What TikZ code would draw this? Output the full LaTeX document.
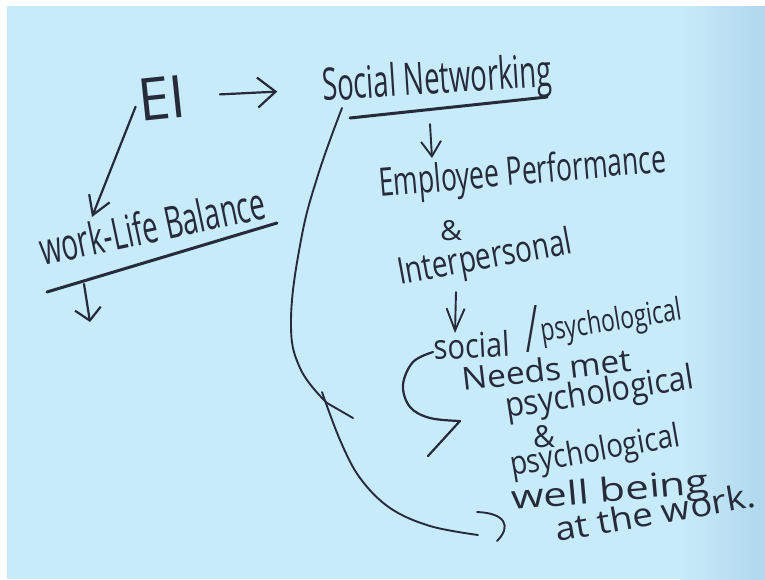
\documentclass[tikz,border=0pt]{standalone}
\usepackage{fontspec}
\setmainfont{Open Sans}
\usepackage{graphicx}
\usetikzlibrary{arrows.meta,calc}
\definecolor{ink}{RGB}{38,42,58}
\definecolor{bgM}{RGB}{200,235,249}
\definecolor{bgR}{RGB}{176,215,237}
\newcommand{\hw}[3]{\resizebox{#1pt}{#2pt}{#3}}
\begin{document}
\begin{tikzpicture}[x=1pt,y=-1pt,
  txt/.style={inner sep=0pt, anchor=base west, text=ink},
  ln/.style={draw=ink, line width=2.2pt, line cap=round, line join=round},
  thin/.style={draw=ink, line width=1.9pt, line cap=round, line join=round},
  uline/.style={draw=ink, line width=3pt, line cap=round}]
\useasboundingbox (0,0) rectangle (765,579);
\fill[white] (0,0) rectangle (765,579);
\fill[bgM] (7,6) rectangle (765,579);
\shade[left color=bgM, right color=bgR] (680,6) rectangle (765,579);

% texts
\node[txt, rotate=6] (EI) at (140,122) {\hw{48}{42}{EI}};
\node[txt, rotate=3.7] (SN) at (323,101) {\hw{230}{34}{Social Networking}};
\node[txt, rotate=5] (EP) at (380,197) {\hw{288}{30}{Employee Performance}};
\node[txt] (amp1) at (440,240) {\hw{22}{20}{\&}};
\node[txt, rotate=10.5] (IP) at (400,285) {\hw{176}{28}{Interpersonal}};
\node[txt, rotate=12] (WLB) at (43,266) {\hw{230}{34}{work-Life Balance}};
\node[txt, rotate=3] (soc) at (434,360) {\hw{76}{26}{social}};
\node[txt] (sl) at (526,352) {\hw{11}{47}{/}};
\node[txt, rotate=9] (psy1) at (542,342) {\hw{142}{24}{psychological}};
\node[txt, rotate=6.7] (nm) at (463,391) {\hw{170}{24}{Needs met}};
\node[txt, rotate=9] (psy2) at (507,418) {\hw{190}{26}{psychological}};
\node[txt] (amp2) at (533,447) {\hw{22}{22}{\&}};
\node[txt, rotate=10] (psy3) at (512,476) {\hw{172}{25}{psychological}};
\node[txt, rotate=5] (wb) at (512,510) {\hw{198}{25}{well being}};
\node[txt, rotate=10] (atw) at (557,542) {\hw{203}{25}{at the work.}};

% EI -> Social Networking
\draw[ln, shorten <=34pt, shorten >=45pt, -{Straight Barb[length=18pt,width=30pt]}] (EI.east) -- (SN.west);
% EI -> work-life balance
\coordinate (wlbTip) at (92,217);
\draw[ln, shorten <=6pt, -{Straight Barb[length=18pt,width=22pt]}] (EI.west) -- (wlbTip);
% underlines
\coordinate (wu1) at (47,292); \coordinate (wu2) at (277,223);
\draw[uline] (wu1) -- (wu2);
\coordinate (su1) at (350,118); \coordinate (su2) at (547,97);
\draw[uline] (su1) -- (su2);
% WLB down arrow
\coordinate (wdA) at (84,284); \coordinate (wdB) at (90,322);
\draw[ln, -{Straight Barb[length=12pt,width=26pt]}] (wdA) -- (wdB);
% SN -> EP
\coordinate (seA) at (430,124); \coordinate (seB) at (432,158);
\draw[thin, -{Straight Barb[length=15pt,width=20pt]}] (seA) -- (seB);
% IP -> social
\coordinate (isA) at (456,292); \coordinate (isB) at (455,333);
\draw[thin, -{Straight Barb[length=22pt,width=18pt]}] (isA) -- (isB);
% hook arrow beside social
\coordinate (hkS) at (433,352); \coordinate (hkT) at (460,421); \coordinate (hkB) at (428,456);
\draw[ln] plot[smooth, tension=0.6] coordinates {(hkS) (413,362) (403,385) (410,407) (430,418) (hkT)} -- (hkB);
% big curve A
\coordinate (cA) at (342,108); \coordinate (cX) at (327,403); \coordinate (cTick) at (353,418);
\draw[thin] plot[smooth, tension=0.7] coordinates {(cA) (318,175) (301,240) (291,320) (300,368) (cX)} -- (cTick);
% big curve B
\coordinate (cB0) at (322,392); \coordinate (cBe) at (478,535);
\draw[thin] plot[smooth, tension=0.6] coordinates {(cB0) (340,440) (360,478) (390,508) (430,526) (cBe)};
\coordinate (bt1) at (477,512); \coordinate (bt2) at (497,541);
\draw[thin] (bt1) .. controls (505,513) and (512,526) .. (bt2);
\end{tikzpicture}
\end{document}
